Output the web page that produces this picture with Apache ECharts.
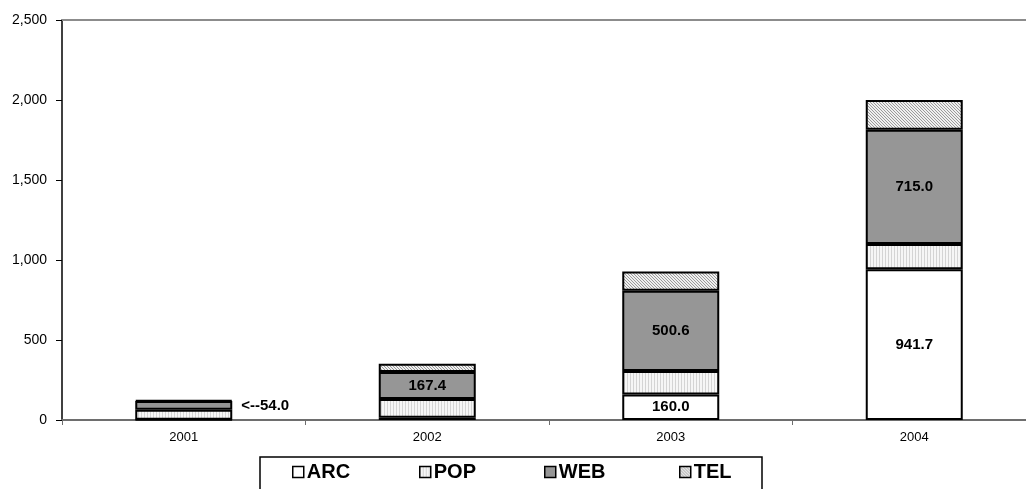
<!DOCTYPE html>
<html>
<head>
<meta charset="utf-8">
<script src="https://cdn.jsdelivr.net/npm/echarts@6/dist/echarts.min.js"></script>
<style>
  html, body { margin: 0; padding: 0; background: #fff; overflow: hidden; }
  body { width: 1026px; height: 489px; }
  #chart { width: 1050px; height: 489px; }
</style>
</head>
<body>
<div id="chart"></div>
<script>
// Yearly totals split into four components
const years = ['2001', '2002', '2003', '2004'];
const arcValues = [2, 14, 160.0, 941.7];
const popValues = [62, 118, 147, 158];
const webValues = [54.0, 167.4, 500.6, 715.0];
const telValues = [6, 52, 120, 185];

// which segments carry a value label
const arcLabelShown = [false, false, true, true];
const webLabelShown = [true, true, true, true];
const webLabelOutside = [true, false, false, false];

const FONT = "Arial, 'Liberation Sans', sans-serif";

// fill patterns drawn on small canvases
function makePattern(w, h, draw) {
  const c = document.createElement('canvas');
  c.width = w; c.height = h;
  const ctx = c.getContext('2d');
  draw(ctx, w, h);
  return { image: c, repeat: 'repeat' };
}
const popFill = makePattern(3, 3, (ctx, w, h) => {
  ctx.fillStyle = '#f6f6f6'; ctx.fillRect(0, 0, w, h);
  ctx.fillStyle = '#d4d4d4'; ctx.fillRect(0, 0, 1, h);
});
const telFill = makePattern(3, 3, (ctx, w, h) => {
  ctx.fillStyle = '#efefef'; ctx.fillRect(0, 0, w, h);
  ctx.fillStyle = '#9a9a9a';
  for (let i = 0; i < 3; i++) ctx.fillRect(i, i, 1, 1);
});

const valueLabel = {
  fontFamily: FONT, fontWeight: 'bold', fontSize: 15, color: '#000'
};

function barSeries(name, values, fill, labelFn) {
  return {
    name: name,
    type: 'bar',
    stack: 'total',
    barWidth: 97,
    xAxisIndex: 0,
    itemStyle: { color: fill, borderColor: '#000', borderWidth: 2 },
    emphasis: { disabled: true },
    data: values.map((v, i) => {
      const item = { value: v };
      if (labelFn) item.label = labelFn(v, i);
      return item;
    })
  };
}

const series = [
  barSeries('ARC', arcValues, '#ffffff', (v, i) => arcLabelShown[i]
    ? Object.assign({ show: true, position: 'inside', formatter: () => v.toFixed(1) }, valueLabel)
    : { show: false }),
  barSeries('POP', popValues, popFill),
  barSeries('WEB', webValues, '#969696', (v, i) => webLabelShown[i]
    ? (webLabelOutside[i]
        ? Object.assign({ show: true, position: 'right', distance: 9, formatter: () => '<--' + v.toFixed(1) }, valueLabel)
        : Object.assign({ show: true, position: 'inside', formatter: () => v.toFixed(1) }, valueLabel))
    : { show: false }),
  barSeries('TEL', telValues, telFill)
];

const legendLefts = { ARC: 292, POP: 419, WEB: 544, TEL: 679 };
const legends = Object.keys(legendLefts).map(name => ({
  data: [name],
  left: legendLefts[name],
  top: 461,
  padding: 0,
  icon: 'rect',
  itemWidth: 11,
  itemHeight: 11,
  itemGap: 0,
  selectedMode: false,
  itemStyle: { borderColor: '#000', borderWidth: 1.5 },
  textStyle: { fontFamily: FONT, fontWeight: 'bold', fontSize: 20, color: '#000', lineHeight: 22, padding: [0, 0, 0, -2] }
}));

const chart = echarts.init(document.getElementById('chart'), null, { renderer: 'canvas' });
chart.setOption({
  animation: false,
  backgroundColor: '#ffffff',
  grid: { left: 62, top: 20, width: 974, height: 400 },
  legend: legends,
  xAxis: [
    {
      type: 'category',
      data: years,
      position: 'bottom',
      axisLine: { lineStyle: { color: '#6e6e6e', width: 2 } },
      axisTick: { show: true, length: 5, lineStyle: { color: '#6e6e6e', width: 1 } },
      axisLabel: { fontFamily: FONT, fontSize: 13, color: '#000', margin: 11 },
      splitLine: { show: false }
    },
    {
      type: 'category',
      data: years,
      position: 'top',
      axisLine: { lineStyle: { color: '#8c8c8c', width: 2 } },
      axisTick: { show: false },
      axisLabel: { show: false }
    }
  ],
  yAxis: {
    type: 'value',
    min: 0,
    max: 2500,
    interval: 500,
    axisLine: { show: true, lineStyle: { color: '#000', width: 1.5 } },
    axisTick: { show: true, length: 6, lineStyle: { color: '#000', width: 1 } },
    axisLabel: {
      fontFamily: FONT, fontSize: 14, color: '#000', margin: 15,
      formatter: v => v.toLocaleString('en-US')
    },
    splitLine: { show: false }
  },
  series: series,
  graphic: [
    {
      type: 'rect',
      shape: { x: 260, y: 457, width: 502, height: 60 },
      style: { fill: 'none', stroke: '#000', lineWidth: 1.5 },
      silent: true,
      z: 0
    }
  ]
});
</script>
</body>
</html>
